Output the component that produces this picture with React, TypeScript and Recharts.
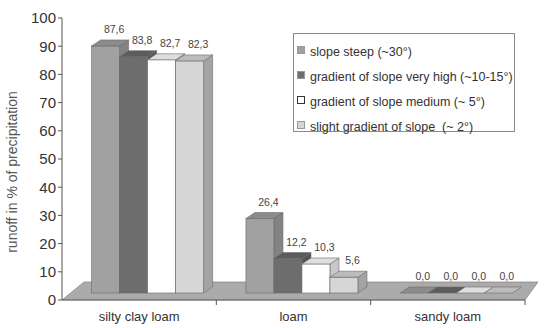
import { BarChart, Bar, XAxis, YAxis, Legend, LabelList, Customized } from 'recharts'

const soils = ['silty clay loam', 'loam', 'sandy loam']
const steep = [87.6, 26.4, 0.0]
const veryHigh = [83.8, 12.2, 0.0]
const medium = [82.7, 10.3, 0.0]
const slight = [82.3, 5.6, 0.0]
const yTicks = [0, 10, 20, 30, 40, 50, 60, 70, 80, 90, 100]

const W = 545
const H = 328
const MARGIN = { top: 18, right: 20, bottom: 0, left: 0 }
const Y_AXIS_W = 62
const X_AXIS_H = 28
const PLOT_L = MARGIN.left + Y_AXIS_W
const PLOT_R = W - MARGIN.right
const PLOT_B = H - MARGIN.bottom - X_AXIS_H

// pseudo-3D: blocks stand a little behind the axis plane and have some depth
const SHIFT_X = 8
const SHIFT_Y = -7
const DEPTH_X = 9
const DEPTH_Y = 6
const FLOOR_DX = 22
const FLOOR_DY = 18

const FONT = 'Arial, "Liberation Sans", sans-serif'

type Faces = { key: string; name: string; front: string; top: string; side: string }

const SERIES: Faces[] = [
  { key: 'steep', name: 'slope steep (~30°)', front: '#a1a1a1', top: '#8c8c8c', side: '#838383' },
  { key: 'veryHigh', name: 'gradient of slope very high (~10-15°)', front: '#6d6d6d', top: '#5c5c5c', side: '#545454' },
  { key: 'medium', name: 'gradient of slope medium (~ 5°)', front: '#ffffff', top: '#dedede', side: '#c8c8c8' },
  { key: 'slight', name: 'slight gradient of slope  (~ 2°)', front: '#d6d6d6', top: '#bcbcbc', side: '#a4a4a4' },
]

const data = soils.map((soil, i) => ({
  soil,
  steep: steep[i],
  veryHigh: veryHigh[i],
  medium: medium[i],
  slight: slight[i],
}))

const fmt = (v: number) => v.toFixed(1).replace('.', ',')

function Block(props: any) {
  const { x, y, width, height, faces } = props
  const fx = x + SHIFT_X
  const fy = y + SHIFT_Y
  const h = Math.max(height, 0)
  const stroke = '#6a6a6a'
  const top = [
    [fx, fy],
    [fx + DEPTH_X, fy - DEPTH_Y],
    [fx + width + DEPTH_X, fy - DEPTH_Y],
    [fx + width, fy],
  ]
  const side = [
    [fx + width, fy],
    [fx + width + DEPTH_X, fy - DEPTH_Y],
    [fx + width + DEPTH_X, fy + h - DEPTH_Y],
    [fx + width, fy + h],
  ]
  return (
    <g>
      {h > 0 && (
        <polygon points={side.map((p) => p.join(',')).join(' ')} fill={faces.side} stroke={stroke} strokeWidth={0.6} />
      )}
      {h > 0 && <rect x={fx} y={fy} width={width} height={h} fill={faces.front} stroke={stroke} strokeWidth={0.6} />}
      <polygon points={top.map((p) => p.join(',')).join(' ')} fill={faces.top} stroke={stroke} strokeWidth={0.6} />
    </g>
  )
}

function ValueLabel(props: any) {
  const { x, y, width, value } = props
  return (
    <text
      x={x + SHIFT_X + width / 2 + DEPTH_X / 2 + 4}
      y={y + SHIFT_Y - 13}
      textAnchor="middle"
      fontSize={10.5}
      fontFamily={FONT}
      fill="#444"
    >
      {fmt(value)}
    </text>
  )
}

function Floor() {
  const pts = [
    [PLOT_L, PLOT_B],
    [PLOT_L + FLOOR_DX, PLOT_B - FLOOR_DY],
    [PLOT_R + 13, PLOT_B - FLOOR_DY],
    [PLOT_R, PLOT_B],
  ]
  return (
    <g>
      <polygon points={pts.map((p) => p.join(',')).join(' ')} fill="#ababab" stroke="#8a8a8a" strokeWidth={0.8} />
      <text
        transform={`translate(17, 172) rotate(-90)`}
        textAnchor="middle"
        fontSize={14}
        fontFamily={FONT}
        fill="#555"
      >
        runoff in % of precipitation
      </text>
    </g>
  )
}

function SoilTick(props: any) {
  const { x, payload } = props
  const band = (PLOT_R - PLOT_L) / soils.length
  return (
    <g>
      <line x1={x + band / 2} y1={PLOT_B} x2={x + band / 2} y2={PLOT_B + 5} stroke="#555" />
      <text x={x} y={PLOT_B + 21} textAnchor="middle" fontSize={13} fontFamily={FONT} fill="#333">
        {payload.value}
      </text>
    </g>
  )
}

function LegendBox() {
  return (
    <div
      style={{
        border: '1px solid #8a8a8a',
        background: '#fff',
        width: 222,
        height: 99,
        boxSizing: 'border-box',
        padding: '6px 0 0 3px',
        fontFamily: FONT,
        fontSize: 12.5,
        color: '#333',
      }}
    >
      {SERIES.map((s) => (
        <div key={s.key} style={{ display: 'flex', alignItems: 'center', height: 24.8 }}>
          <span
            style={{
              width: 6,
              height: 6,
              marginRight: 5,
              marginTop: -4,
              background: s.key === 'medium' ? '#fff' : s.front,
              border: `1px solid ${s.key === 'medium' ? '#333' : '#999'}`,
              flexShrink: 0,
            }}
          />
          <span style={{ whiteSpace: 'pre' }}>{s.name}</span>
        </div>
      ))}
    </div>
  )
}

export default function App() {
  return (
    <div style={{ position: 'absolute', left: 0, top: 0, width: W, height: H, background: '#fff' }}>
      <BarChart width={W} height={H} data={data} margin={MARGIN} barGap={0} barCategoryGap="14%">
        <Customized component={<Floor />} />
        <XAxis
          dataKey="soil"
          height={X_AXIS_H}
          axisLine={{ stroke: '#666' }}
          tickLine={false}
          tick={<SoilTick />}
          interval={0}
        />
        <YAxis
          width={Y_AXIS_W}
          domain={[0, 100]}
          ticks={yTicks}
          tickSize={4}
          tickMargin={2}
          axisLine={{ stroke: '#555' }}
          tickLine={{ stroke: '#555' }}
          tick={{ fontSize: 15, fill: '#333', fontFamily: FONT }}
        />
        <Legend
          layout="vertical"
          align="center"
          verticalAlign="middle"
          content={<LegendBox />}
          wrapperStyle={{ position: 'absolute', left: 293, top: 33, width: 222 }}
        />
        {SERIES.map((s) => (
          <Bar
            key={s.key}
            dataKey={s.key}
            name={s.name}
            fill={s.front}
            isAnimationActive={false}
            shape={(p: any) => <Block {...p} faces={s} />}
          >
            <LabelList dataKey={s.key} content={(p: any) => <ValueLabel {...p} />} />
          </Bar>
        ))}
      </BarChart>
    </div>
  )
}
